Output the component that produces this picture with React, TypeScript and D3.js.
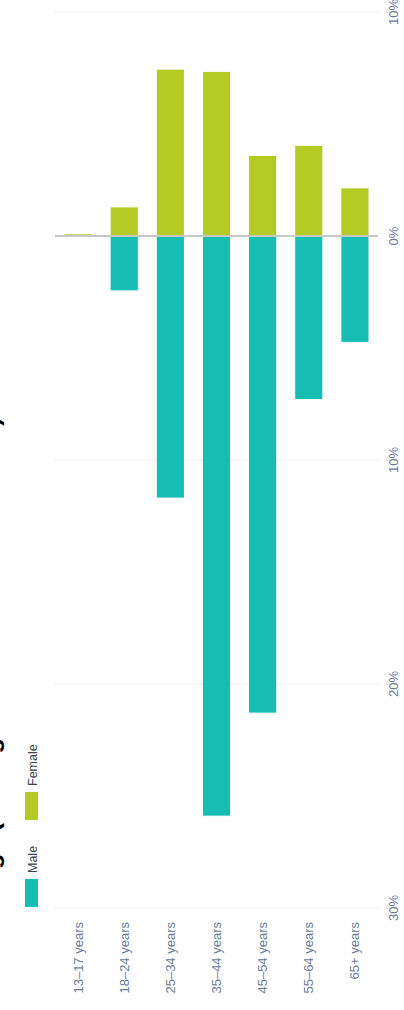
import * as d3 from 'd3';

// ── Data ────────────────────────────────────────────────────────────────────
const categories = ['13–17 years', '18–24 years', '25–34 years', '35–44 years', '45–54 years', '55–64 years', '65+ years'];
const femaleValues = [0.1, 1.3, 7.45, 7.35, 3.6, 4.05, 2.15];
const maleValues = [0, 2.45, 11.7, 25.9, 21.3, 7.3, 4.75];
const valueTicks = [-30, -20, -10, 0, 10];
const seriesNames = ['Male', 'Female'];
const titleText = 'Age (among all members and visitors)';

const W = 404;
const H = 1010;

const COLORS = { Male: '#15bdb2', Female: '#b3cb23' };
const FONT = '"Liberation Sans", Arial, sans-serif';

export default function App() {
  // the chart is laid out as a horizontal bar chart, then turned 90° ccw
  const x = d3.scaleLinear().domain([-30, 10]).range([102, 998]);
  const y = d3.scaleBand().domain(categories).range([55, 378]).paddingInner(0.39).paddingOuter(0.195);

  const bw = y.bandwidth();

  return (
    <svg width={W} height={H} style={{ position: 'absolute', left: 0, top: 0, background: '#fff' }} fontFamily={FONT}>
      <g transform={`translate(0,${H}) rotate(-90)`}>
        {/* title, mostly cut off by the top edge */}
        <text x={122} y={-1.5} fontSize={26} fontWeight="bold" fill="#000">
          {titleText}
        </text>

        {/* legend */}
        {seriesNames.map((name, i) => {
          const lx = i === 0 ? 103 : 190;
          return (
            <g key={name} transform={`translate(${lx},25)`}>
              <rect width={28} height={13} fill={COLORS[name]} />
              <text x={34} y={12} fontSize={12.5} fill="#3b4150">
                {name}
              </text>
            </g>
          );
        })}

        {/* grid */}
        {valueTicks.map(t => (
          <g key={t}>
            {t !== 0 && <line x1={x(t)} x2={x(t)} y1={55} y2={378} stroke="#ebebeb" strokeWidth={1} />}
            <text x={x(t)} y={398} fontSize={13} textAnchor="middle" fill="#6b7a96">
              {Math.abs(t) + '%'}
            </text>
          </g>
        ))}

        {/* bars */}
        {categories.map((c, i) => (
          <g key={c}>
            {maleValues[i] > 0 && (
              <rect x={x(-maleValues[i])} y={y(c)} width={x(0) - x(-maleValues[i])} height={bw} fill={COLORS.Male} stroke="#fff" strokeWidth={1} />
            )}
            <rect x={x(0)} y={y(c)} width={x(femaleValues[i]) - x(0)} height={bw} fill={COLORS.Female} stroke="#fff" strokeWidth={1} />
          </g>
        ))}

        {/* zero line */}
        <line x1={x(0)} x2={x(0)} y1={55} y2={378} stroke="#c8c8c8" strokeWidth={2} />

        {/* category labels */}
        {categories.map(c => (
          <text key={c} x={88} y={y(c) + bw / 2} dy="0.35em" fontSize={13} textAnchor="end" fill="#6b7a96">
            {c}
          </text>
        ))}
      </g>
    </svg>
  );
}
